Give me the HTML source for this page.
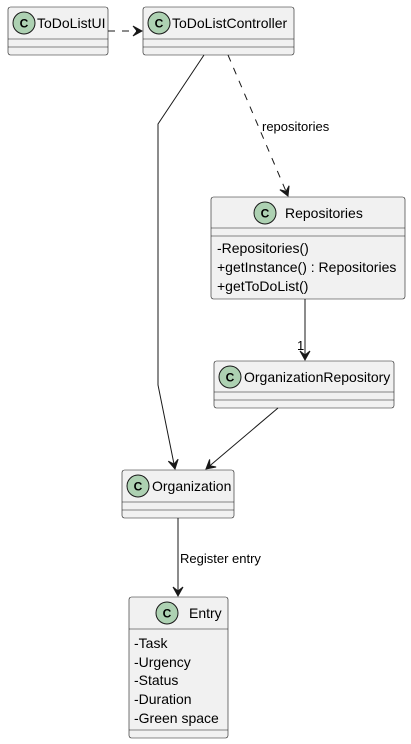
<!DOCTYPE html>
<html><head><meta charset="utf-8"><style>
html,body{margin:0;padding:0;background:#fff;width:411px;height:744px;overflow:hidden}
svg text{font-family:"Liberation Sans",sans-serif;fill:#000}
</style></head><body>
<svg width="411" height="744" viewBox="0 0 411 744" xmlns="http://www.w3.org/2000/svg">
<defs>
<marker id="a" markerWidth="12" markerHeight="12" refX="10" refY="6" orient="auto" markerUnits="userSpaceOnUse">
<path d="M1,1 L10,6 L1,11 L5,6 Z" fill="#181818" stroke="#181818" stroke-width="1"/>
</marker>
</defs>
<g fill="#F1F1F1" stroke="#181818" stroke-width="0.6">
<rect x="8" y="7" width="100" height="48" rx="2.5"/>
<rect x="143" y="7" width="151" height="48" rx="2.5"/>
<rect x="211" y="197" width="194" height="102" rx="2.5"/>
<rect x="214" y="361" width="180" height="47" rx="2.5"/>
<rect x="122" y="470" width="112" height="48" rx="2.5"/>
<rect x="129" y="597" width="99" height="141" rx="2.5"/>
<path d="M8,39H108M8,47H108M143,39H294M143,47H294M211,228H405M211,236H405M214,392H394M214,400H394M122,502H234M122,510H234M129,629H228M129,730H228"/>
</g>
<g fill="#ADD1B2" stroke="#181818" stroke-width="1">
<circle cx="24" cy="23" r="11"/>
<circle cx="159" cy="23" r="11"/>
<circle cx="265" cy="213" r="11"/>
<circle cx="230" cy="377" r="11"/>
<circle cx="138" cy="486" r="11"/>
<circle cx="167" cy="613" r="11"/>
</g>
<g font-size="12" font-weight="bold" text-anchor="middle">
<text x="24" y="27.5">C</text><text x="159" y="27.5">C</text><text x="265" y="217.5">C</text>
<text x="230" y="381.5">C</text><text x="138" y="490.5">C</text><text x="167" y="617.5">C</text>
</g>
<g font-size="14">
<text x="37" y="28">ToDoListUI</text>
<text x="172" y="28">ToDoListController</text>
<text x="285" y="218">Repositories</text>
<text x="244" y="382">OrganizationRepository</text>
<text x="152" y="491">Organization</text>
<text x="189" y="618">Entry</text>
<g font-size="14">
<text x="217" y="253">-Repositories()</text>
<text x="217" y="272">+getInstance() : Repositories</text>
<text x="217" y="291">+getToDoList()</text>
<text x="134" y="648">-Task</text>
<text x="134" y="667">-Urgency</text>
<text x="134" y="685">-Status</text>
<text x="134" y="704">-Duration</text>
<text x="134" y="723">-Green space</text>
</g>
</g>
<g fill="none" stroke="#181818" stroke-width="1">
<path d="M108,31H142" stroke-dasharray="7,7" marker-end="url(#a)"/>
<path d="M228,55L288,196" stroke-dasharray="7,7" marker-end="url(#a)"/>
<path d="M204,55L158,124V385L175,469" marker-end="url(#a)"/>
<path d="M305,299V360" marker-end="url(#a)"/>
<path d="M278,408L206,469" marker-end="url(#a)"/>
<path d="M178,518V596" marker-end="url(#a)"/>
</g>
<g font-size="13">
<text x="262" y="131">repositories</text>
<text x="297" y="350">1</text>
<text x="180" y="563">Register entry</text>
</g>
</svg>
</body></html>
